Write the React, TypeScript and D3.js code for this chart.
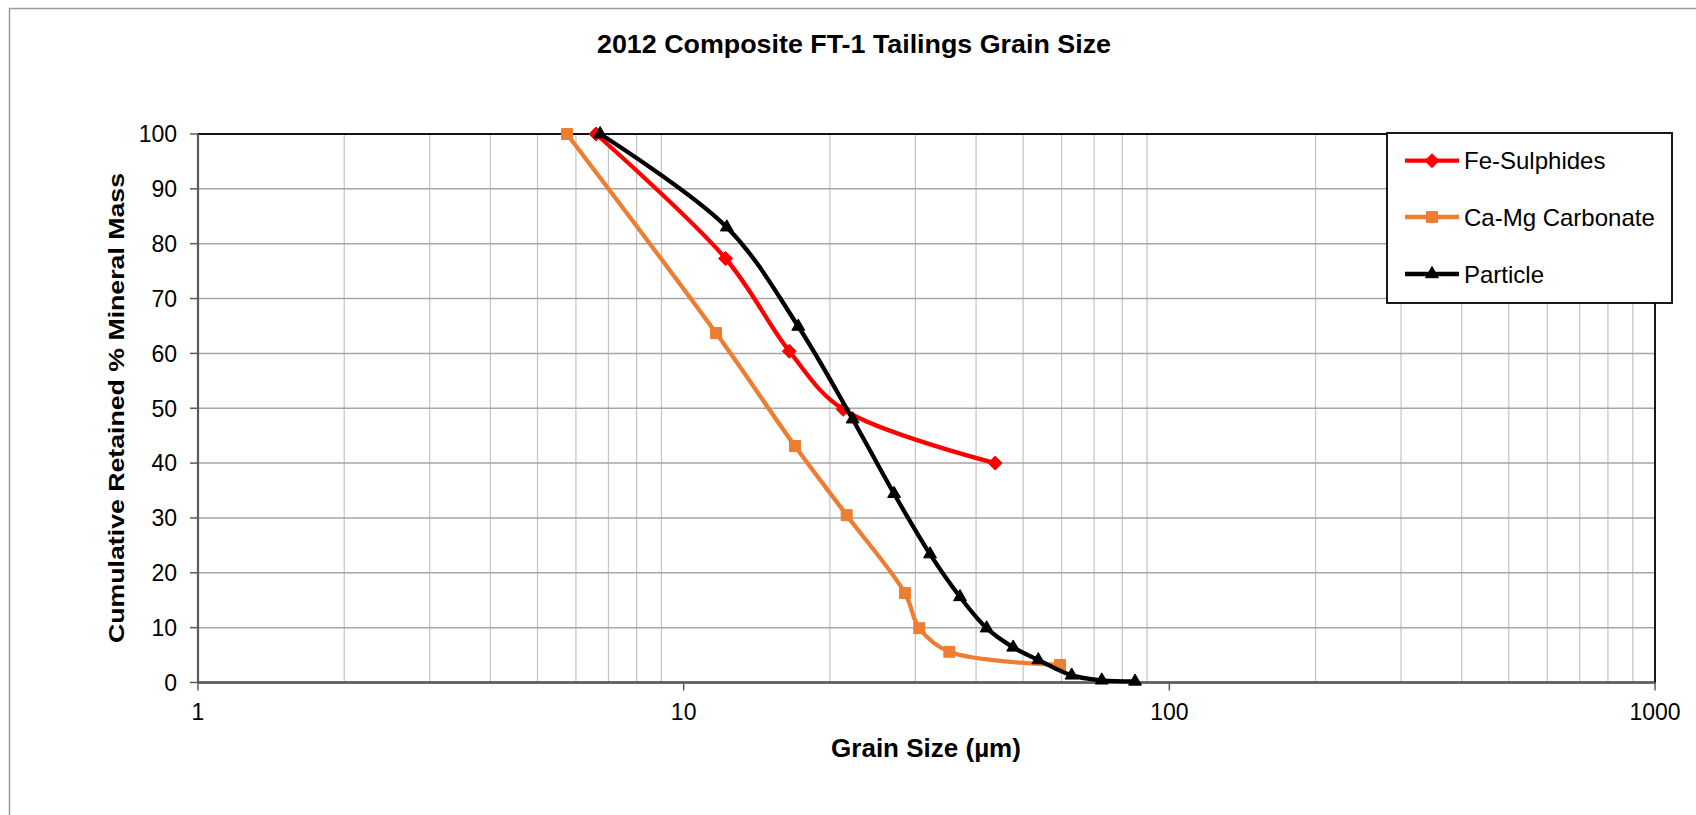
import React from "react";
import * as d3 from "d3";

const TITLE = "2012 Composite FT-1 Tailings Grain Size";
const X_TITLE = "Grain Size (µm)";
const Y_TITLE = "Cumulative Retained % Mineral Mass";

const X_TICKS = [1, 10, 100, 1000];
const Y_TICKS = [0, 10, 20, 30, 40, 50, 60, 70, 80, 90, 100];

const SERIES_NAMES = ["Fe-Sulphides", "Ca-Mg Carbonate", "Particle"];

const feSize = [6.6, 12.2, 16.5, 21.3, 43.8];
const feRet = [100, 77.3, 60.4, 49.8, 40];

const caSize = [5.75, 11.66, 16.95, 21.66, 28.55, 30.56, 35.24, 59.55];
const caRet = [100, 63.7, 43.1, 30.5, 16.3, 9.9, 5.6, 3.2];

const paSize = [6.73, 12.27, 17.22, 22.28, 27.12, 32.16, 37.07, 42.06, 47.7, 53.73, 62.93, 72.6, 85];
const paRet = [100, 83, 64.9, 48, 34.4, 23.4, 15.6, 9.9, 6.4, 4.1, 1.3, 0.4, 0.2];

const W = 1696;
const H = 815;
const L = 198, R = 1655, T = 134, B = 682.5;

const FONT = "'Liberation Sans', Arial, Helvetica, sans-serif";

const x = d3.scaleLog().domain([1, 1000]).range([L, R]);
const y = d3.scaleLinear().domain([0, 100]).range([B, T]);

const minorX: number[] = [];
[1, 10, 100].forEach((d) => {
  for (let k = 2; k <= 9; k++) minorX.push(d * k);
});

type Marker = "diamond" | "square" | "triangle";

function markerPath(kind: Marker, cx: number, cy: number) {
  if (kind === "diamond") {
    const r = 7;
    return `M${cx},${cy - r}L${cx + r},${cy}L${cx},${cy + r}L${cx - r},${cy}Z`;
  }
  if (kind === "square") {
    const r = 5.5;
    return `M${cx - r},${cy - r}H${cx + r}V${cy + r}H${cx - r}Z`;
  }
  return d3.symbol(d3.symbolTriangle, 72)()!.replace(/([-\d.]+),([-\d.]+)/g, (m, a, b) => `${+a + cx},${+b + cy}`);
}

const seriesDefs = [
  { name: SERIES_NAMES[0], xs: feSize, ys: feRet, color: "#FF0000", marker: "diamond" as Marker },
  { name: SERIES_NAMES[1], xs: caSize, ys: caRet, color: "#ED7D31", marker: "square" as Marker },
  { name: SERIES_NAMES[2], xs: paSize, ys: paRet, color: "#000000", marker: "triangle" as Marker },
];

const lineGen = d3
  .line<[number, number]>()
  .x((d) => x(d[0]))
  .y((d) => y(d[1]))
  .curve(d3.curveCatmullRom.alpha(0.5));

export default function App() {
  const legendY = [160.7, 217, 274];
  const drawOrder = [1, 0, 2];
  return (
    <svg
      width={W}
      height={H}
      viewBox={`0 0 ${W} ${H}`}
      style={{ position: "absolute", left: 0, top: 0, background: "#fff" }}
    >
      <rect x={0} y={0} width={W} height={H} fill="#fff" />
      <rect x={9.5} y={8.5} width={W + 20} height={H + 20} fill="none" stroke="#9a9a9a" strokeWidth={1.5} />

      <text
        x={854}
        y={53}
        textAnchor="middle"
        fontFamily={FONT}
        fontWeight="bold"
        fontSize={26}
        textLength={514}
        lengthAdjust="spacingAndGlyphs"
        fill="#000"
      >
        {TITLE}
      </text>

      {/* vertical gridlines */}
      {minorX.map((v) => (
        <line key={"mx" + v} x1={x(v)} x2={x(v)} y1={T} y2={B} stroke="#c3c3c3" strokeWidth={1.2} />
      ))}
      {/* horizontal gridlines */}
      {Y_TICKS.map((v) => (
        <line key={"gy" + v} x1={L} x2={R} y1={y(v)} y2={y(v)} stroke="#a6a6a6" strokeWidth={1.5} />
      ))}

      {/* plot border */}
      <rect x={L} y={T} width={R - L} height={B - T} fill="none" stroke="#000" strokeWidth={1.8} />
      {/* axes */}
      <line x1={L} x2={L} y1={T} y2={B} stroke="#5a5a5a" strokeWidth={2.2} />
      <line x1={L} x2={R} y1={B} y2={B} stroke="#5a5a5a" strokeWidth={2.2} />

      {/* y ticks */}
      {Y_TICKS.map((v) => (
        <g key={"yt" + v}>
          <line x1={L - 8} x2={L} y1={y(v)} y2={y(v)} stroke="#5a5a5a" strokeWidth={1.5} />
          <text
            x={177}
            y={y(v)}
            dy="0.36em"
            textAnchor="end"
            fontFamily={FONT}
            fontSize={23}
            fill="#000"
          >
            {v}
          </text>
        </g>
      ))}

      {/* x ticks */}
      {X_TICKS.map((v) => (
        <g key={"xt" + v}>
          <line x1={x(v)} x2={x(v)} y1={B} y2={B + 8} stroke="#5a5a5a" strokeWidth={1.5} />
          <text x={x(v)} y={720} textAnchor="middle" fontFamily={FONT} fontSize={23} fill="#000">
            {v}
          </text>
        </g>
      ))}

      <text
        x={926}
        y={757}
        textAnchor="middle"
        fontFamily={FONT}
        fontWeight="bold"
        fontSize={26}
        fill="#000"
      >
        {X_TITLE}
      </text>

      <text
        transform={`translate(123.5, 408) rotate(-90)`}
        textAnchor="middle"
        fontFamily={FONT}
        fontWeight="bold"
        fontSize={22}
        textLength={470}
        lengthAdjust="spacingAndGlyphs"
        fill="#000"
      >
        {Y_TITLE}
      </text>

      {/* series */}
      {drawOrder.map((i) => {
        const s = seriesDefs[i];
        const pts: [number, number][] = s.xs.map((v, j) => [v, s.ys[j]]);
        return (
          <g key={s.name}>
            <path d={lineGen(pts) || ""} fill="none" stroke={s.color} strokeWidth={4.3} strokeLinejoin="round" />
            {pts.map((p, j) => (
              <path key={j} d={markerPath(s.marker, x(p[0]), y(p[1]))} fill={s.color} stroke={s.color} strokeWidth={1} />
            ))}
          </g>
        );
      })}

      {/* legend */}
      <rect x={1387} y={133} width={285} height={170} fill="#fff" stroke="#000" strokeWidth={1.8} />
      {seriesDefs.map((s, i) => (
        <g key={"lg" + s.name}>
          <line x1={1405} x2={1459} y1={legendY[i]} y2={legendY[i]} stroke={s.color} strokeWidth={4.3} />
          <path d={markerPath(s.marker, 1432, legendY[i])} fill={s.color} stroke={s.color} strokeWidth={1} />
          <text x={1464} y={legendY[i]} dy="0.36em" fontFamily={FONT} fontSize={24} fill="#000">
            {s.name}
          </text>
        </g>
      ))}
    </svg>
  );
}
